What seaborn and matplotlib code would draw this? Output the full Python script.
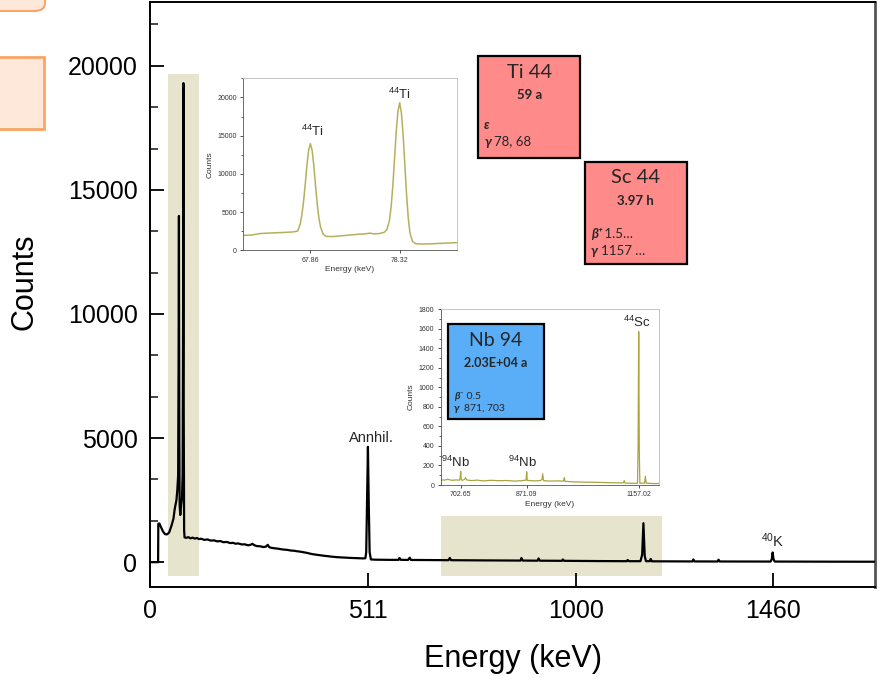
import numpy as np
import pandas as pd
import matplotlib
matplotlib.use("Agg")
import matplotlib.pyplot as plt
import seaborn as sns
from matplotlib.patches import Rectangle, FancyBboxPatch
from matplotlib.ticker import MultipleLocator, FixedLocator

# ---------------- data ----------------
# main gamma spectrum (keV, counts)
main_energy = [0, 19, 19.5, 22, 26, 30, 35, 40, 45, 50, 55, 58, 62, 64, 66, 67, 67.86, 68.7, 69.5,
               71, 73, 75, 76.5, 77.5, 78.32, 79.1, 80, 81, 85, 90, 95, 100, 105, 110, 115, 120,
               127, 135, 142, 150, 157, 165, 172, 180, 188, 195, 200, 207, 215, 222, 230, 236, 240,
               244, 250, 258, 266, 272, 276, 280, 286, 292, 300, 308, 315, 322, 330, 338, 345, 352,
               360, 368, 375, 382, 390, 398, 405, 412, 420, 430, 440, 450, 460, 470, 480, 490, 500,
               505, 507, 509, 511, 513, 515, 518, 530, 550, 570, 583, 585, 588,
               605, 609, 612, 630, 650, 680, 700, 703, 706, 740, 780, 820, 869, 871, 874, 909, 911,
               914, 940, 966, 968, 971, 1000, 1050, 1090, 1118, 1120, 1123, 1150, 1154, 1157, 1160,
               1163, 1172, 1174, 1177, 1220, 1272, 1274, 1277, 1331, 1333, 1336, 1400, 1455, 1458,
               1460, 1462, 1465, 1520, 1600, 1650, 1700]
main_counts = [0, 0, 1550, 1560, 1400, 1250, 1130, 1120, 1200, 1450, 1750, 2150, 2500, 2900, 3500,
               8000, 13950, 5000, 2300, 1900, 2300, 2600, 3500, 9000, 19300, 6000, 1300, 1000, 980,
               1010, 960, 990, 950, 975, 930, 945, 900, 915, 870, 880, 840, 850, 805, 815, 770, 780,
               745, 755, 715, 720, 680, 700, 740, 690, 650, 640, 610, 625, 700, 600, 575, 560, 545,
               520, 505, 495, 470, 460, 440, 425, 400, 375, 345, 320, 300, 280, 265, 250, 230, 215,
               200, 190, 180, 172, 165, 158, 152,
               160, 400, 2500, 4650, 2300, 400,
               110, 100, 95, 92, 95, 170, 95, 90, 180, 90, 88, 85, 82, 80, 170, 80, 75, 72, 68, 65,
               170, 65, 60, 150, 60, 58, 55, 110, 55, 50, 45, 42, 40, 90, 40, 40, 300, 1570, 250, 40,
               40, 130, 35, 32, 30, 110, 30, 28, 100, 28, 26, 25, 120, 390, 120, 25, 22, 20, 20, 18]

# zoom 1: 44Ti low-energy lines
ti_energy = [60, 61, 62, 63, 64, 65, 65.8, 66.36, 66.66, 66.86, 67.06, 67.26, 67.46, 67.66, 67.86,
             68.06, 68.26, 68.46, 68.66, 68.86, 69.06, 69.36, 69.7, 70.5, 71.5, 72.5, 73.5, 74.3,
             74.8, 75.3, 76.0, 76.5, 76.82, 77.12, 77.32, 77.52, 77.72, 77.92, 78.12, 78.32, 78.52,
             78.72, 78.92, 79.12, 79.32, 79.52, 79.82, 80.2, 81, 82, 83, 84, 85]
ti_counts = [1950, 2000, 2200, 2250, 2300, 2350, 2400, 2500, 3400, 4600, 6400, 8700, 11200, 13150,
             13950, 13100, 11100, 8500, 6100, 4200, 3000, 2100, 1820, 1800, 1900, 2000, 2100, 2150,
             2250, 2150, 2200, 2350, 2700, 3900, 5700, 8500, 12000, 15600, 18200, 19300, 18000,
             15100, 11300, 7400, 4300, 2300, 1150, 850, 820, 850, 900, 950, 1000]

# zoom 2: 94Nb / 44Sc region
nb_energy = [650, 660, 670, 680, 690, 700, 701.5, 702.65, 703.8, 706, 712, 715, 718, 730, 745, 760,
             780, 800, 820, 840, 860, 869.5, 871.09, 872.5, 890, 905, 910, 912, 914, 930, 950, 965,
             967, 969, 990, 1010, 1040, 1070, 1100, 1118, 1120, 1122, 1140, 1154, 1155.5, 1157.02,
             1158.5, 1160, 1172, 1174, 1176, 1190, 1210]
nb_counts = [55, 50, 58, 48, 52, 50, 80, 140, 60, 48, 55, 75, 52, 45, 50, 42, 48, 44, 46, 40, 45, 50,
             135, 48, 42, 45, 55, 115, 45, 40, 42, 40, 75, 38, 32, 30, 28, 25, 22, 22, 45, 20, 18,
             18, 400, 1570, 350, 18, 20, 90, 20, 15, 15]

main_xticks = [0, 511, 1000, 1460]
main_yticks = [0, 5000, 10000, 15000, 20000]
ti_xticks = [67.86, 78.32]
nb_xticks = [702.65, 871.09, 1157.02]

# zoomed windows shown in the main plot (keV span, counts span)
win1_energy = [42, 115]
win2_energy = [682, 1200]
win1_counts = [-560, 19650]
win2_counts = [-560, 1850]

# ---------------- style ----------------
sns.set_theme(style="ticks")
plt.rcParams['font.family'] = ['Liberation Sans', 'DejaVu Sans']
plt.rcParams['mathtext.fontset'] = 'custom'
plt.rcParams['mathtext.rm'] = 'Liberation Sans'
plt.rcParams['mathtext.it'] = 'Liberation Sans:italic'
plt.rcParams['mathtext.bf'] = 'Liberation Sans:bold'

W, H = 883, 678
fig = plt.figure(figsize=(W / 100, H / 100), dpi=100)

def fx(px):
    return px / W

def fy(py):
    return 1 - py / H

shade = "#e6e4cc"
olive = "#a9a43f"

# ---------------- main axes ----------------
ax = fig.add_axes([fx(150), fy(587), fx(875) - fx(150), fy(2) - fy(587)])
df_main = pd.DataFrame({"Energy": main_energy, "Counts": main_counts})
for e, c in [(win1_energy, win1_counts), (win2_energy, win2_counts)]:
    ax.add_patch(Rectangle((e[0], c[0]), e[1] - e[0], c[1] - c[0], facecolor=shade,
                           edgecolor="none", zorder=0))
sns.lineplot(data=df_main, x="Energy", y="Counts", ax=ax, color="black", lw=1.6,
             estimator=None, sort=False, zorder=3)
ax.set_xlim(0, 1700)
ax.set_ylim(-1000, 22570)
ax.xaxis.set_major_locator(FixedLocator(main_xticks))
ax.yaxis.set_major_locator(FixedLocator(main_yticks))
ax.yaxis.set_minor_locator(MultipleLocator(5000 / 3))
ax.tick_params(axis="both", which="major", direction="in", length=10, width=1.3,
               labelsize=18, pad=9, colors="black")
ax.tick_params(axis="y", which="minor", direction="in", length=6, width=1.2)
ax.set_xlabel("Energy (keV)", fontsize=22, labelpad=15, color="black")
ax.set_ylabel("Counts", fontsize=22, color="black")
ax.yaxis.set_label_coords(-0.153, 0.521)
for s in ax.spines.values():
    s.set_linewidth(1.4)
    s.set_color("black")
ax.spines["right"].set_color("#555555")
ax.spines["right"].set_linewidth(2)
ax.text(518, 5020, "Annhil.", ha="center", va="center", fontsize=10.5)
ax.text(1460, 880, "$^{40}$K", ha="center", va="center", fontsize=10.5)

# ---------------- inset 1 (44Ti) ----------------
ax1 = fig.add_axes([fx(243.3), fy(250.3), fx(456.7) - fx(243.3), fy(78.3) - fy(250.3)])
df_ti = pd.DataFrame({"Energy": ti_energy, "Counts": ti_counts})
sns.lineplot(data=df_ti, x="Energy", y="Counts", ax=ax1, color="#b5b05c", lw=1.1,
             estimator=None, sort=False)
ax1.set_xlim(60, 85)
ax1.set_ylim(0, 22500)
ax1.xaxis.set_major_locator(FixedLocator(ti_xticks))
ax1.set_xticklabels([f"{v:.2f}" for v in ti_xticks])
ax1.yaxis.set_major_locator(MultipleLocator(5000))
ax1.yaxis.set_minor_locator(MultipleLocator(2500))
ax1.tick_params(axis="both", which="major", direction="out", length=2.5, width=0.6,
                labelsize=5, pad=2, colors="#333333")
ax1.tick_params(axis="y", which="minor", direction="out", length=1.5, width=0.5)
ax1.set_xlabel("Energy (keV)", fontsize=6, labelpad=2, color="#333333")
ax1.set_ylabel("Counts", fontsize=6, labelpad=3, color="#333333")
for k, s in ax1.spines.items():
    s.set_linewidth(0.6)
    s.set_color("#555555" if k in ("left", "bottom") else "#bbbbbb")
ax1.text(68.1, 15500, "$^{44}$Ti", ha="center", va="center", fontsize=9.5)
ax1.text(78.32, 20430, "$^{44}$Ti", ha="center", va="center", fontsize=9.5)

# ---------------- inset 2 (94Nb, 44Sc) ----------------
ax2 = fig.add_axes([fx(440.7), fy(485), fx(659.3) - fx(440.7), fy(309.3) - fy(485)])
df_nb = pd.DataFrame({"Energy": nb_energy, "Counts": nb_counts})
sns.lineplot(data=df_nb, x="Energy", y="Counts", ax=ax2, color=olive, lw=0.9,
             estimator=None, sort=False)
ax2.set_xlim(651.6, 1209.6)
ax2.set_ylim(0, 1800)
ax2.xaxis.set_major_locator(FixedLocator(nb_xticks))
ax2.set_xticklabels([f"{v:.2f}" for v in nb_xticks])
ax2.yaxis.set_major_locator(MultipleLocator(200))
ax2.yaxis.set_minor_locator(MultipleLocator(100))
ax2.tick_params(axis="both", which="major", direction="out", length=2.5, width=0.6,
                labelsize=5, pad=2, colors="#333333")
ax2.tick_params(axis="y", which="minor", direction="out", length=1.5, width=0.5)
ax2.set_xlabel("Energy (keV)", fontsize=6, labelpad=2, color="#333333")
ax2.set_ylabel("Counts", fontsize=6, labelpad=3, color="#333333")
for k, s in ax2.spines.items():
    s.set_linewidth(0.6)
    s.set_color("#555555" if k in ("left", "bottom") else "#bbbbbb")
ax2.text(690, 150, "$^{94}$Nb", ha="center", va="bottom", fontsize=9.5)
ax2.text(860, 150, "$^{94}$Nb", ha="center", va="bottom", fontsize=9.5)
ax2.text(1152, 1590, "$^{44}$Sc", ha="center", va="bottom", fontsize=9.5)

# ---------------- nuclide boxes ----------------
box_font = ['Lato', 'DejaVu Sans']

def nuclide_box(x0, y0, x1, y1, color, name, half, lines, line_y, name_fs, half_fs, small_fs):
    fig.add_artist(Rectangle((fx(x0), fy(y1)), fx(x1) - fx(x0), fy(y0) - fy(y1),
                             transform=fig.transFigure, facecolor=color, edgecolor="black",
                             lw=1.6, zorder=10))
    cx = fx((x0 + x1) / 2)
    fig.text(cx, fy(y0 + 16), name, ha="center", va="center", fontsize=name_fs,
             family=box_font, zorder=11)
    fig.text(cx, fy(y0 + 39), half, ha="center", va="center", fontsize=half_fs,
             fontweight="bold", family=box_font, zorder=11)
    for (sym, rest), yy in zip(lines, line_y):
        fig.text(fx(x0 + 6), fy(yy), sym, ha="left", va="center", fontsize=small_fs,
                 fontweight="bold", style="italic", family=box_font, zorder=11)
        fig.text(fx(x0 + 6 + 10), fy(yy), rest, ha="left", va="center", fontsize=small_fs,
                 family=box_font, zorder=11)

nuclide_box(478.3, 56, 580, 157.7, "#fe8a8a", "Ti 44", "59 a",
            [("ε", ""), ("γ", "78, 68")], [125, 141.5], 14.5, 9.5, 9.5)
nuclide_box(585, 161.7, 686.7, 264, "#fe8a8a", "Sc 44", "3.97 h",
            [("β⁺", " 1.5…"), ("γ", "1157 …")], [234, 251], 14.5, 9.5, 9.5)
nuclide_box(447.7, 324, 544, 419, "#5aadf7", "Nb 94", "2.03E+04 a",
            [("β⁻", " 0.5"), ("γ", "871, 703")], [396.5, 408.5], 14, 9, 7.5)

# ---------------- decorative boxes at top-left ----------------
fig.add_artist(FancyBboxPatch((fx(-20), fy(11)), fx(65), fy(-30) - fy(11),
                              boxstyle="round,pad=0,rounding_size=0.012",
                              transform=fig.transFigure, facecolor="#fde8da",
                              edgecolor="#f8a566", lw=1.5, zorder=10))
fig.add_artist(Rectangle((fx(-3), fy(129)), fx(47), fy(57) - fy(129),
                         transform=fig.transFigure, facecolor="#fde8da",
                         edgecolor="#f8a566", lw=2, zorder=10))

fig.savefig("out.png", dpi=100)
